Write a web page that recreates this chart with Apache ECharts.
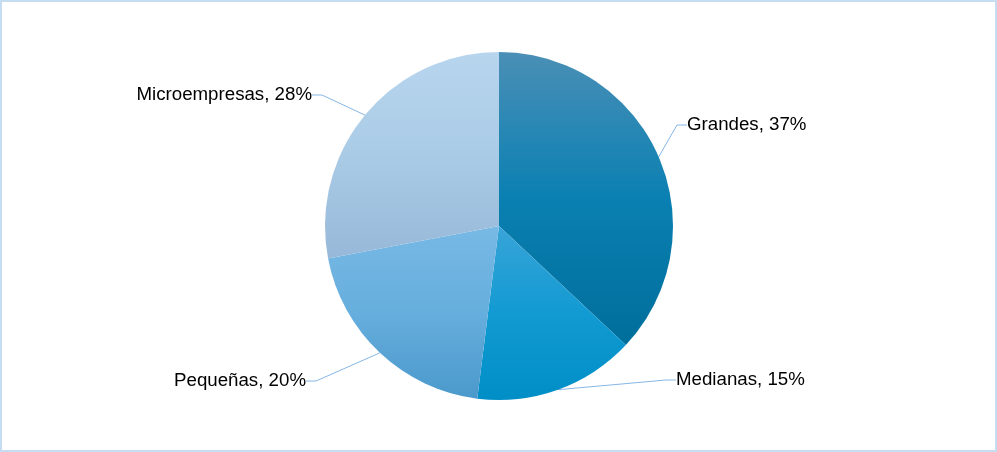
<!DOCTYPE html>
<html><head><meta charset="utf-8">
<script src="https://cdn.jsdelivr.net/npm/echarts@6/dist/echarts.min.js"></script>
<style>html,body{margin:0;padding:0;background:#fff}#c{width:997px;height:452px}</style>
</head><body><div id="c"></div>
<script>
const categories = ['Grandes', 'Medianas', 'Pequeñas', 'Microempresas'];
const values = [37, 15, 20, 28];
const labels = ['Grandes, 37%', 'Medianas, 15%', 'Pequeñas, 20%', 'Microempresas, 28%'];

const gradients = [
  ['#4a8fb6', '#0a80b2', '#006e9b'],
  ['#38a4d8', '#129ad2', '#008ec6'],
  ['#78b9e5', '#66aedd', '#4b99cc'],
  ['#b8d5ee', '#aacbe6', '#97b8d8']
];
// label anchor positions (x, y, align)
const labelPos = [
  [687, 125, 'left'],
  [676, 380, 'left'],
  [306, 381, 'right'],
  [312, 95, 'right']
];

const chart = echarts.init(document.getElementById('c'), null, {renderer: 'canvas'});
chart.setOption({
  animation: false,
  graphic: [{
    type: 'rect', silent: true, z: 100,
    shape: {x: 1, y: 1, width: 995, height: 450},
    style: {fill: 'none', stroke: '#c6dcf1', lineWidth: 2}
  }],
  series: [{
    type: 'pie',
    center: [499, 226],
    radius: [0, 174],
    startAngle: 90,
    clockwise: true,
    avoidLabelOverlap: false,
    data: categories.map((c, i) => ({
      name: c,
      value: values[i],
      label: {formatter: labels[i]},
      itemStyle: {
        color: new echarts.graphic.LinearGradient(0, 0, 0, 1, [
          {offset: 0, color: gradients[i][0]},
          {offset: 0.5, color: gradients[i][1]},
          {offset: 1, color: gradients[i][2]}
        ])
      }
    })),
    itemStyle: {borderWidth: 0},
    label: {
      show: true,
      position: 'outside',
      color: '#000',
      fontFamily: 'Liberation Sans, Arial, sans-serif',
      fontSize: 18.7
    },
    labelLine: {
      show: true,
      length: 20,
      length2: 10,
      lineStyle: {color: '#86b6e6', width: 1}
    },
    labelLayout: function (p) {
      const lp = labelPos[p.dataIndex];
      return {x: lp[0], y: lp[1], align: lp[2], verticalAlign: 'middle'};
    }
  }]
});
</script></body></html>
